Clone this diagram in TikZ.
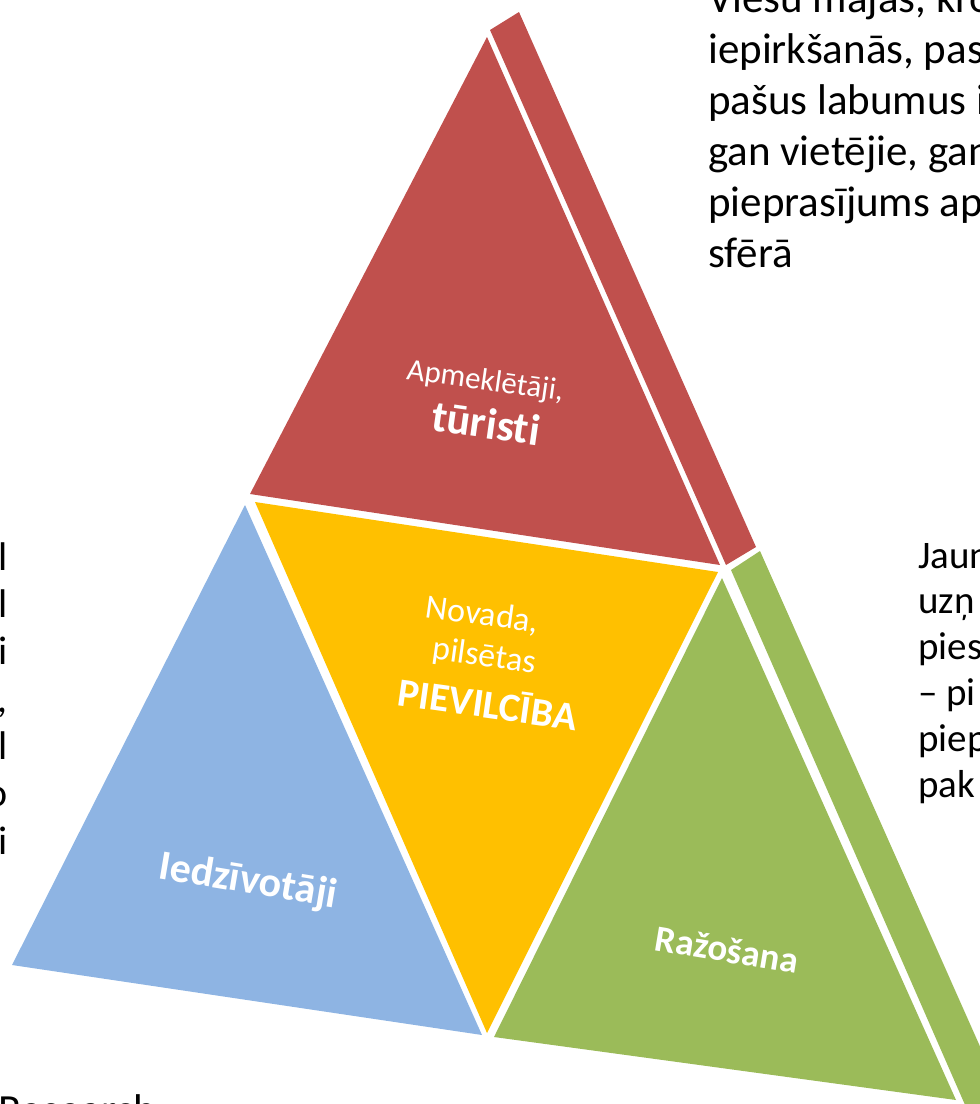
\documentclass[tikz,border=0pt]{standalone}
\usepackage{fontspec}
\setmainfont{Carlito}[Ligatures=NoCommon]
\usetikzlibrary{positioning}
\definecolor{faceRed}{HTML}{C0504D}
\definecolor{faceGold}{HTML}{FFC000}
\definecolor{faceBlue}{HTML}{8EB4E3}
\definecolor{faceGreen}{HTML}{9BBB59}
\tikzset{
  lbl/.style={text=white, inner sep=0pt, anchor=base, rotate=-8},
  sidetext/.style={text=black, inner sep=0pt, font=\fontsize{43}{51}\selectfont},
}

\begin{document}
\begin{tikzpicture}[x=1pt,y=-1pt]
    \useasboundingbox (0,0) rectangle (980,1104);
    \clip (0,0) rectangle (980,1104);
    % Pyramid faces -----------------------------------------------------
    \fill[faceRed]   (487,37)  -- (250,494)  -- (720,565)  -- cycle;
    \fill[faceRed]   (490,30)  -- (519,12)   -- (756,547)  -- (726,565) -- cycle;
    \fill[faceGold]  (255,502) -- (718,572)  -- (487,1033) -- cycle;
    \fill[faceBlue]  (245,505) -- (12,965)   -- (482,1035) -- cycle;
    \fill[faceGreen] (722,578) -- (494,1037) -- (956,1100) -- cycle;
    \fill[faceGreen] (731,570) -- (760,551)  -- (1010,1114) -- (969,1114) -- cycle;
    % Face labels -------------------------------------------------------
    \node[lbl, font=\fontsize{31}{36}\selectfont] (apm) at (484,390) {Apmeklētāji,};
    \node[lbl, font=\fontsize{44}{48}\selectfont\bfseries] (tur) at (484,438) {tūristi};
    \node[lbl, font=\fontsize{34}{40}\selectfont] (nov) at (481,625) {Novada,};
    \node[lbl, font=\fontsize{34}{40}\selectfont] (pil) at (483,666) {pilsētas};
    \node[lbl, font=\fontsize{40}{44}\selectfont\bfseries] (piev) at (486,718) {PIEVILCĪBA};
    \node[lbl, rotate=-1.5, font=\fontsize{42}{44}\selectfont\bfseries] (iedz) at (246,893) {Iedzīvotāji};
    \node[lbl, rotate=-1.5, font=\fontsize{37}{40}\selectfont\bfseries] (raz) at (725,962) {Ražošana};
    % Texts at the edges ------------------------------------------------
    \node[sidetext, anchor=base west, align=left] (viesu) at (708,267)
        {Viesu mājas, kro\\iepirkšanās, pas\\pašus labumus i\\gan vietējie, gan\\pieprasījums ap\\sfērā};
    \node[sidetext, anchor=base west, align=left, font=\fontsize{39}{45.8}\selectfont] (jaun) at (918,797)
        {Jaun\\uzņ\\pies\\– pi\\piep\\pak};
    \node[sidetext, anchor=base east, align=right, font=\fontsize{40}{47.3}\selectfont] (edge) at (8,854)
        {l\\l\\i\\,\\l\\o\\i};
    \node[sidetext, anchor=base west] (research) at (-2,1124) {Research};
\end{tikzpicture}
\end{document}
